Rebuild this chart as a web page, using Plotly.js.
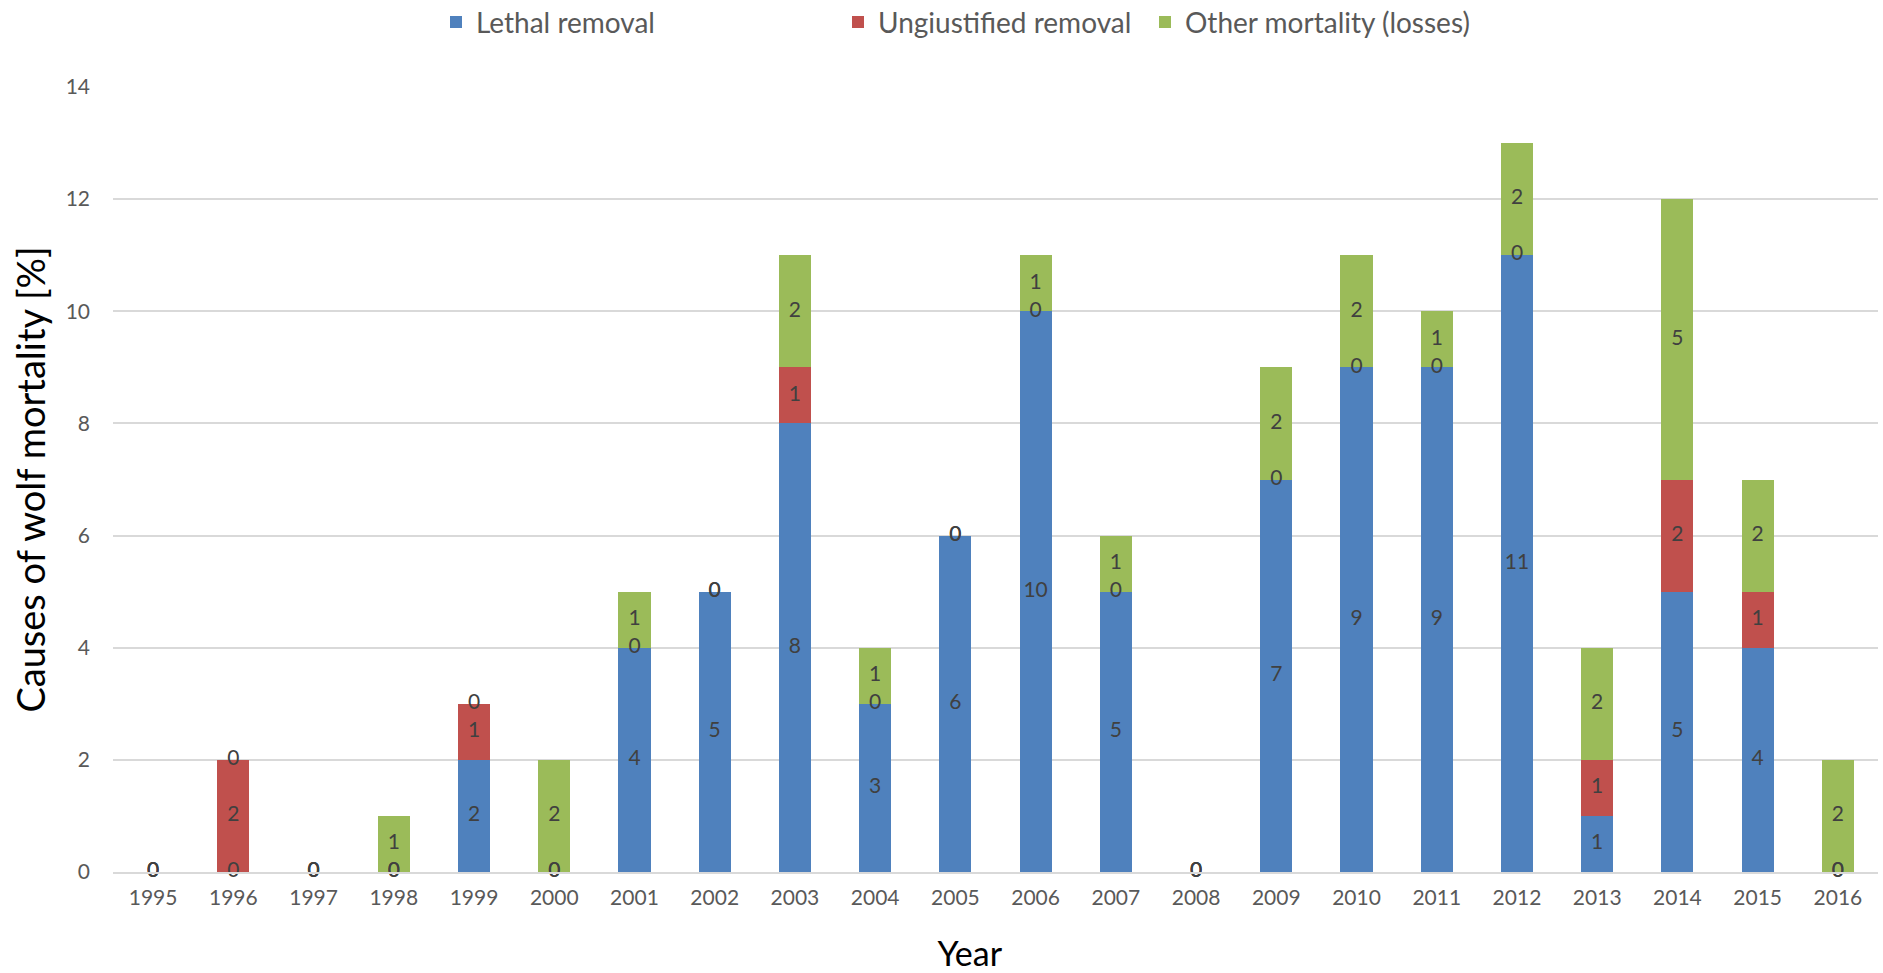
<!DOCTYPE html>
<html>
<head>
<meta charset="utf-8">
<script src="https://cdn.plot.ly/plotly-3.0.1.min.js"></script>
<style>html,body{margin:0;padding:0;background:#fff;}#chart{width:1883px;height:973px;}</style>
</head>
<body>
<div id="chart"></div>
<script>
const years = ["1995","1996","1997","1998","1999","2000","2001","2002","2003","2004","2005","2006","2007","2008","2009","2010","2011","2012","2013","2014","2015","2016"];
const lethalRemoval = [0,0,0,0,2,0,4,5,8,3,6,10,5,0,7,9,9,11,1,5,4,0];
const unjustifiedRemoval = [0,2,0,0,1,0,0,0,1,0,0,0,0,0,0,0,0,0,1,2,1,0];
const otherMortality = [0,0,0,1,0,2,1,0,2,1,0,1,1,0,2,2,1,2,2,5,2,2];
const seriesNames = ["Lethal removal","Ungiustified removal","Other mortality (losses)"];
const yTicks = [0,2,4,6,8,10,12,14];

const colors = ["#4F81BD","#C0504D","#9BBB59"];
const series = [lethalRemoval, unjustifiedRemoval, otherMortality];
const FONT = "Lato, 'Open Sans', sans-serif";

const traces = [];
const legendKeys = ["legend","legend2","legend3"];
series.forEach((vals, i) => {
  traces.push({
    type: "bar", x: years, y: vals, name: seriesNames[i],
    marker: {color: colors[i]}, legend: legendKeys[i], hoverinfo: "x+y+name"
  });
});
// data labels (including zeros) at the centre of each stacked segment
series.forEach((vals, i) => {
  const ys = vals.map((v, k) => {
    let base = 0;
    for (let j = 0; j < i; j++) base += series[j][k];
    return base + v / 2;
  });
  traces.push({
    type: "scatter", mode: "text", x: years, y: ys,
    text: vals.map(String), textposition: "middle center",
    textfont: {family: FONT, size: 21, color: "#404040"},
    showlegend: false, hoverinfo: "skip", cliponaxis: false
  });
});

const legendBase = {
  orientation: "h", xref: "container", yref: "container",
  xanchor: "left", yanchor: "middle", y: 0.977,
  font: {family: FONT, size: 28, color: "#595959"},
  bgcolor: "rgba(0,0,0,0)", itemclick: false
};

// trailing non-breaking spaces (kept by a zero-width joiner) shift the centred title left like the original
const xTitlePad = "\u00a0".repeat(6) + "\u200d";
const layout = {
  width: 1883, height: 973,
  paper_bgcolor: "#fff", plot_bgcolor: "#fff",
  margin: {l: 113, r: 5, t: 87, b: 101},
  barmode: "stack", bargap: 0.6,
  font: {family: FONT},
  xaxis: {
    type: "category", range: [-0.5, years.length - 0.5], autorange: false,
    showgrid: false,
    showline: true, linecolor: "#D9D9D9", linewidth: 2,
    tickfont: {family: FONT, size: 21, color: "#595959"},
    ticks: "", ticklabelstandoff: 6,
    title: {text: "Year" + xTitlePad, font: {family: FONT, size: 34, color: "#000"}, standoff: 37}
  },
  yaxis: {
    range: [0, 14], autorange: false, tickvals: yTicks, ticktext: yTicks.map(String),
    showgrid: true, gridcolor: "#D9D9D9", gridwidth: 2,
    zeroline: false, showline: false, ticks: "",
    tickfont: {family: FONT, size: 21, color: "#595959"},
    ticklabelstandoff: 22,
    title: {text: "Causes of wolf mortality [%]", font: {family: FONT, size: 38, color: "#000"}, standoff: 8}
  },
  legend: Object.assign({}, legendBase, {x: 436/1883}),
  legend2: Object.assign({}, legendBase, {x: 838/1883}),
  legend3: Object.assign({}, legendBase, {x: 1145/1883}),
  showlegend: true
};

Plotly.newPlot("chart", traces, layout, {displayModeBar: false, staticPlot: true});
</script>
</body>
</html>
